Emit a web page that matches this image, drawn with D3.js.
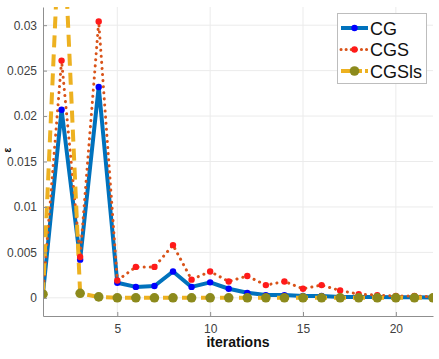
<!DOCTYPE html>
<html lang="en">
<head>
  <meta charset="UTF-8">
  <title>CG / CGS / CGSls convergence</title>
  <script src="https://d3js.org/d3.v7.min.js"></script>
  <style>
    body, html {
      margin: 0;
      padding: 0;
      background: #fff;
      overflow: hidden;
    }
    svg {
      display: block;
      font-family: "Liberation Sans", Arial, sans-serif;
    }
    .tick text {
      font-size: 12px;
      fill: #404040;
    }
    .grid line {
      stroke: #ebebeb;
      stroke-width: 1px;
    }
    .legend text {
      font-size: 18px;
      fill: #111;
    }
  </style>
</head>
<body>
  <svg width="439" height="359"></svg>

  <script>
    // data
    const iterations = d3.range(1, 23);
    const cg = [0.0005, 0.0207, 0.0042, 0.0232, 0.00165, 0.0012, 0.0013, 0.0029, 0.0012, 0.0017, 0.001,
      0.00055, 0.0003, 0.0003, 0.0002, 0.0002, 0.0001, 0.0001, 0.0001, 0.00005, 0.00005, 0.00003];
    const cgs = [0.0005, 0.0261, 0.0045, 0.0304, 0.0019, 0.0034, 0.0034, 0.0058, 0.002, 0.0029, 0.0018,
      0.0024, 0.0014, 0.0018, 0.001, 0.0014, 0.0008, 0.0004, 0.0003, 0.0002, 0.0002, 0.0001];
    const cgsls = [0.0004, 0.046, 0.0005, 0.0001, 0, 0, 0, 0, 0, 0, 0, 0, 0, 0, 0, 0, 0, 0, 0, 0, 0, 0];
    const xTicks = [5, 10, 15, 20];
    const yTicks = [0, 0.005, 0.01, 0.015, 0.02, 0.025, 0.03];

    const series = [
      { name: "CG", values: cg, line: "#0072BD", marker: "#0000ff", width: 4, dash: null, r: 3.2 },
      { name: "CGS", values: cgs, line: "#D95319", marker: "#ff1a1a", width: 3, dash: "0.1 6", r: 3.2 },
      { name: "CGSls", values: cgsls, line: "#EDB120", marker: "#8c8a1c", width: 4, dash: "12 7", r: 4.8 }
    ];

    const plotLeft = 43, plotRight = 433, plotTop = 7, plotBottom = 316;

    const svg = d3.select("svg");

    const x = d3.scaleLinear().domain([1, 22]).range([plotLeft, plotRight]);
    const y = d3.scaleLinear().domain([-0.002, 0.032]).range([plotBottom, plotTop]);

    // grid
    const grid = svg.append("g").attr("class", "grid");
    grid.selectAll(".gx").data(xTicks).enter().append("line")
      .attr("x1", d => x(d)).attr("x2", d => x(d))
      .attr("y1", plotTop).attr("y2", plotBottom);
    grid.selectAll(".gy").data(yTicks).enter().append("line")
      .attr("x1", plotLeft).attr("x2", plotRight)
      .attr("y1", d => y(d)).attr("y2", d => y(d));

    // clip so the tall CGSls spike is cut at the top
    svg.append("clipPath").attr("id", "plot")
      .append("rect")
      .attr("x", plotLeft).attr("y", plotTop)
      .attr("width", plotRight - plotLeft).attr("height", plotBottom - plotTop);

    const plot = svg.append("g").attr("clip-path", "url(#plot)");

    const line = d3.line()
      .x((d, i) => x(iterations[i]))
      .y(d => y(d));

    series.forEach(s => {
      plot.append("path")
        .attr("d", line(s.values))
        .attr("fill", "none")
        .attr("stroke", s.line)
        .attr("stroke-width", s.width)
        .attr("stroke-linecap", s.name === "CGS" ? "round" : "butt")
        .attr("stroke-linejoin", "round")
        .attr("stroke-dasharray", s.dash);
    });

    // markers drawn after lines; CGSls on top as in the picture
    series.forEach(s => {
      plot.selectAll(".m-" + s.name)
        .data(s.values)
        .enter().append("circle")
        .attr("cx", (d, i) => x(iterations[i]))
        .attr("cy", d => y(d))
        .attr("r", s.r)
        .attr("fill", s.marker);
    });

    // axes
    const xAxis = svg.append("g")
      .attr("transform", `translate(0,${plotBottom})`)
      .call(d3.axisBottom(x).tickValues(xTicks).tickSizeInner(-4).tickSizeOuter(0).tickPadding(8));
    const yAxis = svg.append("g")
      .attr("transform", `translate(${plotLeft},0)`)
      .call(d3.axisLeft(y).tickValues(yTicks).tickFormat(d => d === 0 ? "0" : String(+d.toFixed(3)))
        .tickSizeInner(-4).tickSizeOuter(0).tickPadding(6));

    [xAxis, yAxis].forEach(a => {
      a.select(".domain").attr("stroke", "#8f8f8f").attr("stroke-width", 1);
      a.selectAll(".tick line").attr("stroke", "#8f8f8f");
    });

    svg.append("text")
      .attr("x", (plotLeft + plotRight) / 2)
      .attr("y", 347)
      .attr("text-anchor", "middle")
      .attr("font-size", 14)
      .attr("font-weight", "bold")
      .attr("fill", "#111")
      .text("iterations");

    // y label, squeezed against the left edge
    svg.append("text")
      .attr("transform", `translate(11,150) rotate(-90)`)
      .attr("text-anchor", "middle")
      .attr("font-size", 10)
      .attr("font-weight", "bold")
      .attr("fill", "#111")
      .text("ε");

    // legend
    const legend = svg.append("g").attr("class", "legend");
    legend.append("rect")
      .attr("x", 337.5).attr("y", 13.5)
      .attr("width", 89).attr("height", 70)
      .attr("fill", "#fff")
      .attr("stroke", "#bdbdbd");

    const items = legend.selectAll(".item")
      .data(series)
      .enter().append("g")
      .attr("transform", (d, i) => `translate(341,${28 + i * 21.5})`);

    items.append("line")
      .attr("x1", 0).attr("x2", 27)
      .attr("stroke", d => d.line)
      .attr("stroke-width", d => d.width)
      .attr("stroke-linecap", d => d.name === "CGS" ? "round" : "butt")
      .attr("stroke-dasharray", d => d.name === "CGS" ? "0.1 5" : d.name === "CGSls" ? "9 3" : null);

    items.append("circle")
      .attr("cx", 13.5)
      .attr("r", d => d.r)
      .attr("fill", d => d.marker);

    items.append("text")
      .attr("x", 29)
      .attr("y", 6.5)
      .text(d => d.name);
  </script>
</body>
</html>
